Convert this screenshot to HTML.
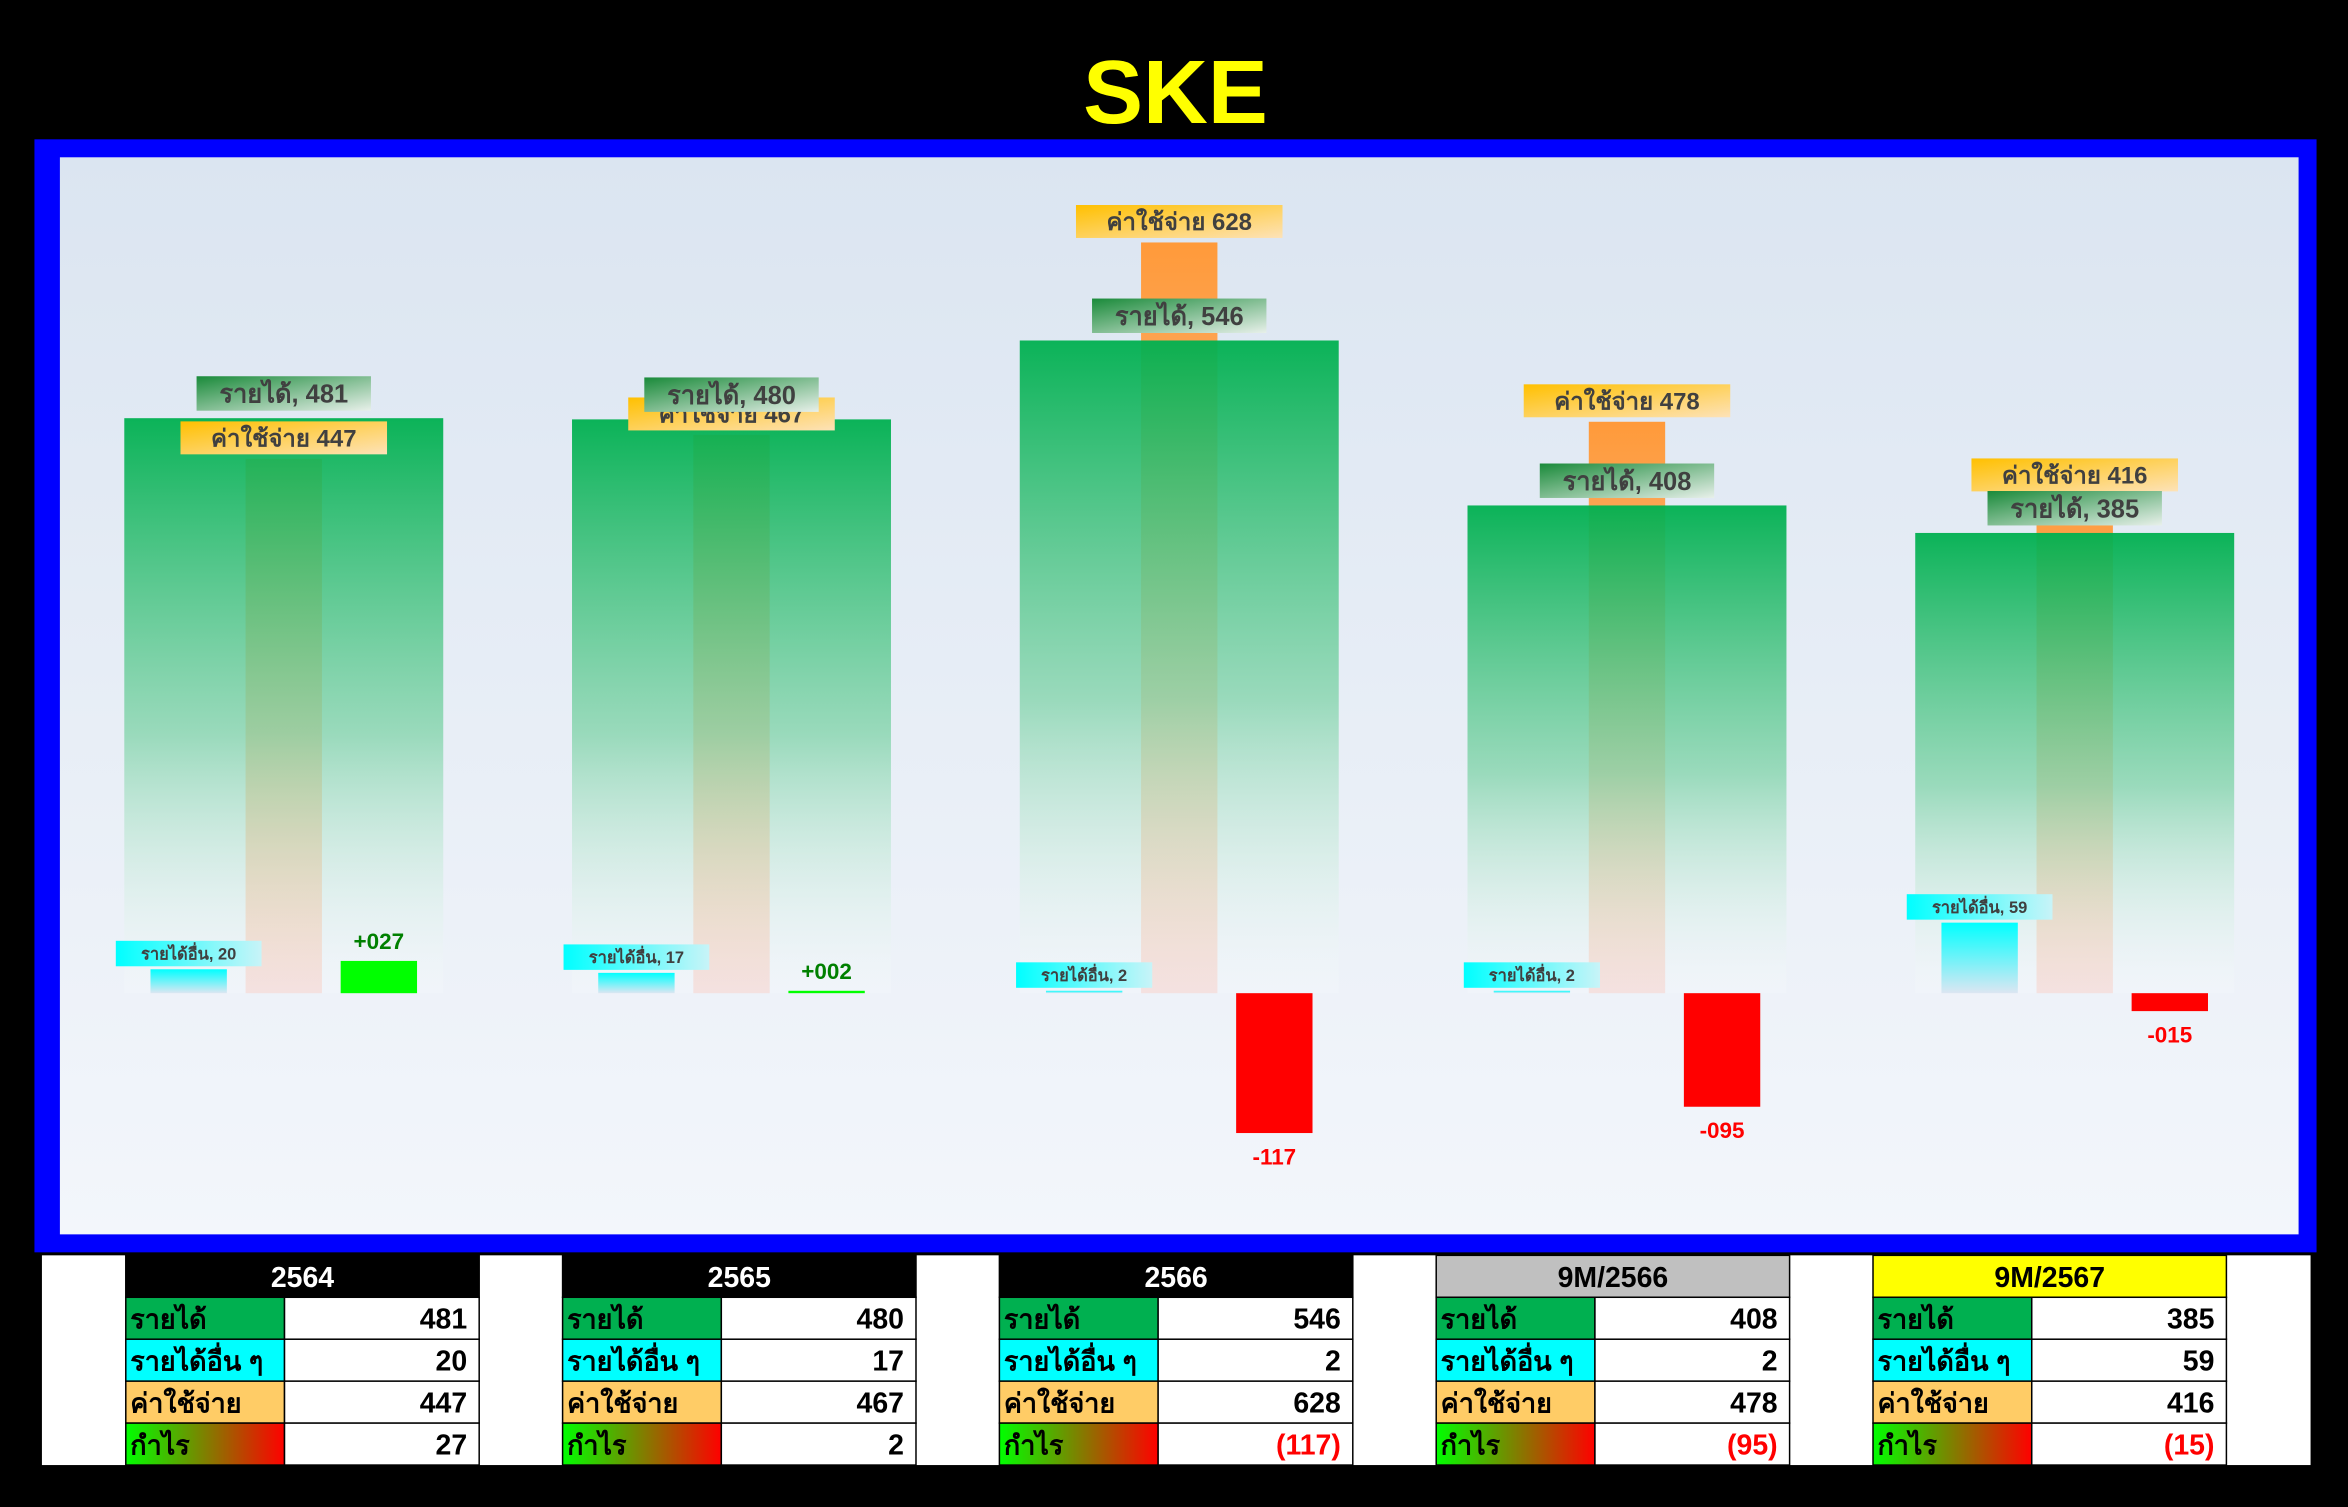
<!DOCTYPE html>
<html><head><meta charset="utf-8">
<style>
html,body{margin:0;padding:0;background:#000;}
svg{display:block;}
text{font-family:"Liberation Sans","Noto Sans CJK SC",sans-serif;}
</style></head>
<body>
<svg id="chart" width="2348" height="1507" viewBox="0 0 1568 1006" preserveAspectRatio="none" xmlns="http://www.w3.org/2000/svg">
<defs>
<linearGradient id="panelG" x1="0" y1="0" x2="0" y2="1"><stop offset="0" stop-color="#dbe5f1"/><stop offset="1" stop-color="#f3f6fb"/></linearGradient>
<linearGradient id="revG" x1="0" y1="0" x2="0" y2="1"><stop offset="0" stop-color="#00b050" stop-opacity="0.95"/><stop offset="0.55" stop-color="#7fd3a8" stop-opacity="0.75"/><stop offset="1" stop-color="#ffffff" stop-opacity="0.15"/></linearGradient>
<linearGradient id="expG" x1="0" y1="0" x2="0" y2="1"><stop offset="0" stop-color="#ff9a3a"/><stop offset="1" stop-color="#f2dcdb"/></linearGradient>
<linearGradient id="othG" x1="0" y1="0" x2="0" y2="1"><stop offset="0" stop-color="#00ffff"/><stop offset="1" stop-color="#dce6f2"/></linearGradient>
<linearGradient id="revLblG" x1="0" y1="0" x2="1" y2="1"><stop offset="0" stop-color="#1a8a3a"/><stop offset="1" stop-color="#e8f0ea"/></linearGradient>
<linearGradient id="expLblG" x1="0" y1="0" x2="1" y2="1"><stop offset="0" stop-color="#ffc000"/><stop offset="1" stop-color="#fde2b8"/></linearGradient>
<linearGradient id="othLblG" x1="0" y1="0" x2="1" y2="0"><stop offset="0" stop-color="#00ffff"/><stop offset="1" stop-color="#c8f4f8"/></linearGradient>
<linearGradient id="profG" x1="0" y1="0" x2="1" y2="0"><stop offset="0" stop-color="#00ff00"/><stop offset="1" stop-color="#ff0000"/></linearGradient>
</defs>
<rect x="0" y="0" width="1568" height="1006" fill="#000"/>
<text x="785" y="82" text-anchor="middle" font-size="60" font-weight="bold" fill="#ffff00">SKE</text>
<rect x="23" y="93" width="1524" height="743" fill="#0000ff"/>
<rect x="40" y="105" width="1495" height="719" fill="url(#panelG)"/>
<rect x="28" y="838" width="1515" height="140" fill="#fff"/>
<g id="bars"></g>
<g id="tables"></g>
</svg>
<script>
const periods = ["2564","2565","2566","9M/2566","9M/2567"];
const revenue = [481,480,546,408,385];
const otherIncome = [20,17,2,2,59];
const expense = [447,467,628,478,416];
const profit = [27,2,-117,-95,-15];
const headerFill = ["#000","#000","#000","#c0c0c0","#ffff00"];
const headerText = ["#fff","#fff","#fff","#000","#000"];

const NS="http://www.w3.org/2000/svg";
const base=663, k=0.798;
function yScale(v){return base - v*k;}
function xCenter(i){return 189.5 + i*299;}
function el(tag,attrs,parent){const e=document.createElementNS(NS,tag);for(const a in attrs)e.setAttribute(a,attrs[a]);parent.appendChild(e);return e;}
const bars=document.getElementById('bars');
const tables=document.getElementById('tables');
function pad(v){const s=String(Math.abs(v)).padStart(3,'0');return (v>=0?'+':'-')+s;}
function label(txt,cx,yBottom,fs,fill,name){
  const w=txt.length*fs*0.58+8, h=fs+6;
  const r=el('rect',{x:cx-w/2,y:yBottom-h,width:w,height:h,fill:fill},bars);
  
  
  const t=el('text',{x:cx,y:yBottom-h/2+fs*0.36,'text-anchor':'middle','font-size':fs,'font-weight':'bold',fill:'#404040'},bars);
  t.textContent=txt;
  
  
}
periods.forEach((p,i)=>{
  const cx=xCenter(i);
  // expense bar
  const e=el('rect',{x:cx-25.5,y:yScale(expense[i]),width:51,height:expense[i]*k,fill:'url(#expG)'},bars);
  
  
  // revenue bar
  const r=el('rect',{x:cx-106.5,y:yScale(revenue[i]),width:213,height:revenue[i]*k,fill:'url(#revG)'},bars);
  
  
  // other income
  const o=el('rect',{x:cx-89,y:yScale(otherIncome[i]),width:51,height:Math.max(otherIncome[i]*k,1),fill:'url(#othG)'},bars);
  
  
  // profit
  const pv=profit[i];
  const pr=el('rect',{x:cx+38,y:pv>=0?yScale(pv):base,width:51,height:Math.max(Math.abs(pv)*k,1.5),fill:pv>=0?'#00ff00':'#ff0000'},bars);
  
  
  const pt=el('text',{x:cx+63.5,y:pv>=0?yScale(pv)-8:base+Math.abs(pv)*k+21,'text-anchor':'middle','font-size':15,'font-weight':'bold',fill:pv>=0?'#008000':'#ff0000'},bars);
  pt.textContent=pad(pv);
  
  
  // labels
  label('ค่าใช้จ่าย '+expense[i],cx,yScale(expense[i])-3,16,'url(#expLblG)','expense-label-'+i);
  label('รายได้, '+revenue[i],cx,yScale(revenue[i])-5,17,'url(#revLblG)','revenue-label-'+i);
  label('รายได้อื่น, '+otherIncome[i],cx-63.5,yScale(otherIncome[i])-2,11,'url(#othLblG)','other-income-label-'+i);
  // table
  const tx=84+i*291.7, w=236, lw=106;
  const hd=el('rect',{x:tx,y:838,width:w,height:28,fill:headerFill[i],stroke:'#000','stroke-width':1},tables);
  
  
  const ht=el('text',{x:tx+w/2,y:859,'text-anchor':'middle','font-size':19,'font-weight':'bold',fill:headerText[i]},tables);
  ht.textContent=p;
  
  
  const rows=[['รายได้','#00b050',String(revenue[i])],['รายได้อื่น ๆ','#00ffff',String(otherIncome[i])],['ค่าใช้จ่าย','#ffcc66',String(expense[i])],['กำไร','url(#profG)',pv<0?'('+Math.abs(pv)+')':String(pv)]];
  rows.forEach((row,j)=>{
    const y=866+j*28;
    const c1=el('rect',{x:tx,y:y,width:lw,height:28,fill:row[1],stroke:'#000','stroke-width':1},tables);
    
    
    const c2=el('rect',{x:tx+lw,y:y,width:w-lw,height:28,fill:'#fff',stroke:'#000','stroke-width':1},tables);
    
    
    const t1=el('text',{x:tx+3,y:y+21,'font-size':18,'font-weight':'bold',fill:'#000'},tables);
    t1.textContent=row[0];
    
    
    const t2=el('text',{x:tx+w-8,y:y+21,'text-anchor':'end','font-size':19,'font-weight':'bold',fill:(j===3&&pv<0)?'#ff0000':'#000'},tables);
    t2.textContent=row[2];
    
    
  });
});
</script>
</body></html>
